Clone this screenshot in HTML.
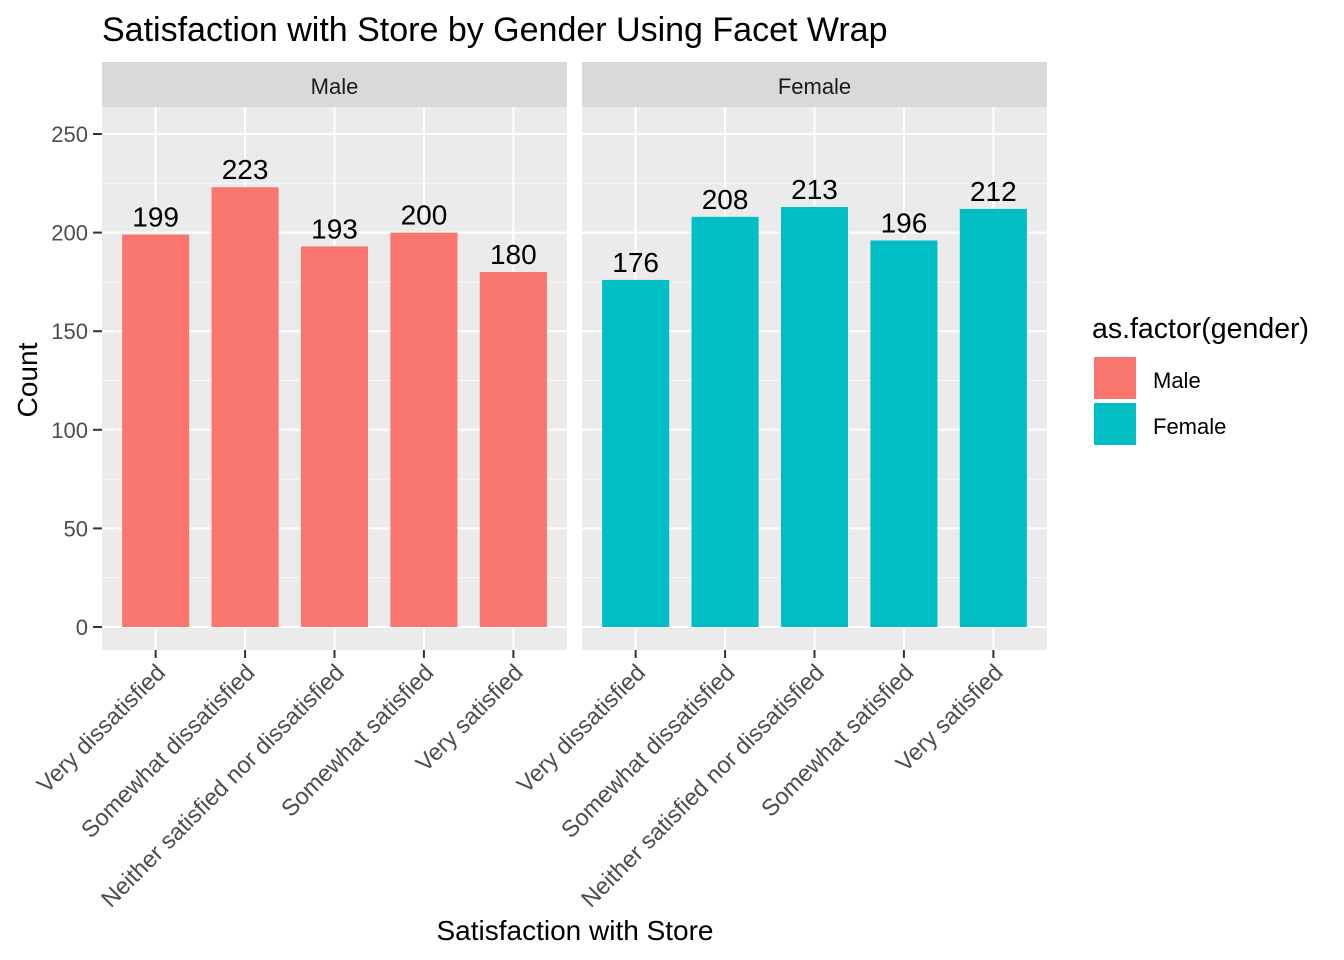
<!DOCTYPE html>
<html><head><meta charset="utf-8"><style>
html,body{margin:0;padding:0;background:#fff;}
svg{display:block;font-family:"Liberation Sans",Arial,sans-serif;}
</style></head><body>
<svg id="chart" width="1344" height="960" viewBox="0 0 1344 960">
<text x="102" y="41" font-size="34" fill="#000">Satisfaction with Store by Gender Using Facet Wrap</text>
<text transform="translate(37,380) rotate(-90)" text-anchor="middle" font-size="28" fill="#000">Count</text>
<text x="575" y="940" text-anchor="middle" font-size="28" fill="#000">Satisfaction with Store</text>
<g>
<text x="1092" y="338" font-size="28.5" fill="#000">as.factor(gender)</text>
<rect x="1094" y="357" width="42" height="42" fill="#F8766D"/>
<text x="1153" y="388" font-size="22" fill="#000">Male</text>
<rect x="1094" y="403" width="42" height="42" fill="#00BFC4"/>
<text x="1153" y="434" font-size="22" fill="#000">Female</text>
</g>
<g id="plots"></g>
</svg>
<script>
const categories = ["Very dissatisfied","Somewhat dissatisfied","Neither satisfied nor dissatisfied","Somewhat satisfied","Very satisfied"];
const panels = ["Male","Female"];
const maleValues = [199,223,193,200,180];
const femaleValues = [176,208,213,196,212];
const yTicks = [0,50,100,150,200,250];
const colors = ["#F8766D","#00BFC4"];
const NS="http://www.w3.org/2000/svg";
const root=document.getElementById('plots');
function mk(tag,attrs,parent){const e=document.createElementNS(NS,tag);for(const k in attrs)e.setAttribute(k,attrs[k]);parent.appendChild(e);return e;}
const plotTop=107,plotBottom=650;
function yScale(v){return 627-(v/250)*493;}
const panelX=[102,582], panelW=465;
function xc(p,i){const u=panelW/(categories.length+0.2);return panelX[p]+(0.6+i)*u;}
const bw=0.75*panelW/(categories.length+0.2);
[maleValues,femaleValues].forEach((vals,p)=>{
  const g=mk('g',{},root);
  
  
  const bg=mk('rect',{x:panelX[p],y:plotTop,width:panelW,height:plotBottom-plotTop,fill:'#EBEBEB'},g);
  
  
  const st=mk('rect',{x:panelX[p],y:62,width:panelW,height:45,fill:'#D9D9D9'},g);
  
  
  const stt=mk('text',{x:panelX[p]+panelW/2,y:94,'text-anchor':'middle','font-size':'22',fill:'#1A1A1A'},g);
  stt.textContent=panels[p];
  
  
  for(let k=0;k<yTicks.length-1;k++){const m=(yTicks[k]+yTicks[k+1])/2;
    mk('line',{x1:panelX[p],x2:panelX[p]+panelW,y1:yScale(m),y2:yScale(m),stroke:'#fff','stroke-width':1,opacity:0.7},g);}
  yTicks.forEach(t=>mk('line',{x1:panelX[p],x2:panelX[p]+panelW,y1:yScale(t),y2:yScale(t),stroke:'#fff','stroke-width':2},g));
  categories.forEach((c,i)=>{
    mk('line',{x1:xc(p,i),x2:xc(p,i),y1:plotTop,y2:plotBottom,stroke:'#fff','stroke-width':2},g);
    mk('line',{x1:xc(p,i),x2:xc(p,i),y1:plotBottom,y2:plotBottom+8,stroke:'#333','stroke-width':2},g);
    const tl=mk('text',{transform:`translate(${xc(p,i)+11},${plotBottom+24}) rotate(-45)`,'text-anchor':'end','font-size':'23.5',fill:'#4D4D4D'},g);
    tl.textContent=c;
    
    
  });
  vals.forEach((v,i)=>{
    const b=mk('rect',{x:xc(p,i)-bw/2,y:yScale(v),width:bw,height:yScale(0)-yScale(v),fill:colors[p]},g);
    
    
    const l=mk('text',{x:xc(p,i),y:yScale(v)-8,'text-anchor':'middle','font-size':'28',fill:'#000'},g);
    l.textContent=v;
    
    
  });
});
yTicks.forEach(t=>{
  mk('line',{x1:93,x2:102,y1:yScale(t),y2:yScale(t),stroke:'#333','stroke-width':2},root);
  const tl=mk('text',{x:88,y:yScale(t)+8,'text-anchor':'end','font-size':'22',fill:'#4D4D4D'},root);
  tl.textContent=t;
  
  
});
</script>
</body></html>
